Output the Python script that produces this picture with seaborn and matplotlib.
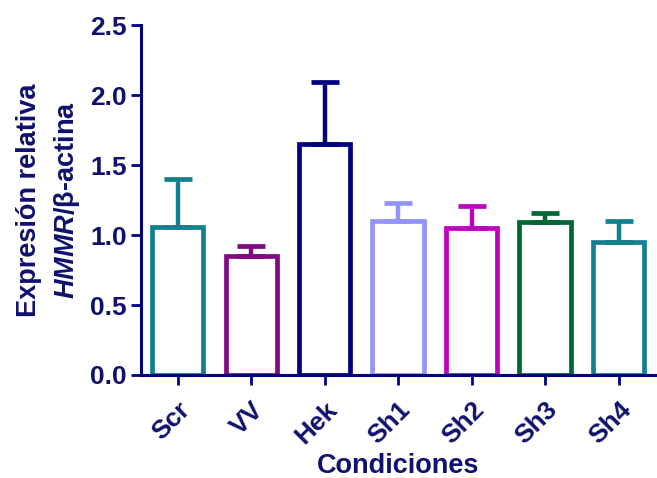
import seaborn as sns
import pandas as pd
import matplotlib.pyplot as plt

condiciones = ["Scr", "VV", "Hek", "Sh1", "Sh2", "Sh3", "Sh4"]
medias = [1.06, 0.85, 1.65, 1.10, 1.05, 1.09, 0.95]
errores = [0.34, 0.07, 0.44, 0.13, 0.16, 0.07, 0.15]
colores = ["#12808F", "#800A80", "#000080", "#9494FF", "#C000C0", "#006633", "#12808F"]

navy = "#000080"
txt = "#10106E"

sns.set_style("ticks")
plt.rcParams['font.family'] = ['Liberation Sans', 'DejaVu Sans']
plt.rcParams['mathtext.fontset'] = 'custom'
plt.rcParams['mathtext.it'] = 'Liberation Sans:italic:bold'
plt.rcParams['mathtext.rm'] = 'Liberation Sans:bold'

df = pd.DataFrame({"cond": condiciones, "val": medias})

fig = plt.figure(figsize=(6.57, 4.78), dpi=100)
ax = fig.add_axes([0.2146, 0.2155, 0.783, 0.732])

sns.barplot(data=df, x="cond", y="val", hue="cond", palette=colores, order=condiciones,
            fill=False, linewidth=3.4, width=0.7, errorbar=None, legend=False, ax=ax)

for i, (m, e, c) in enumerate(zip(medias, errores, colores)):
    ax.errorbar(i, m, yerr=[[0], [e]], color=c, elinewidth=3.2, capsize=10, capthick=3.4,
                fmt='none', zorder=3)

ax.set_ylim(0, 2.5)
ax.set_xlim(-0.5, 6.5)
ax.set_yticks([0.0, 0.5, 1.0, 1.5, 2.0, 2.5])
ax.set_yticklabels(["0.0", "0.5", "1.0", "1.5", "2.0", "2.5"])

for s in ["top", "right"]:
    ax.spines[s].set_visible(False)
for s in ["left", "bottom"]:
    ax.spines[s].set_color(navy)
    ax.spines[s].set_linewidth(2.2)
ax.tick_params(axis='both', colors=navy, width=2, length=7, labelcolor=txt, labelsize=19)
ax.tick_params(axis='y', pad=3)
ax.tick_params(axis='x', pad=9)
for lab in ax.get_yticklabels():
    lab.set_fontweight('bold')
for lab in ax.get_xticklabels():
    lab.set_fontweight('bold')
    lab.set_rotation(45)
    lab.set_ha('right')
    lab.set_rotation_mode('anchor')

ax.set_xlabel("Condiciones", fontsize=19.5, fontweight='bold', color=txt, labelpad=3.5)
ax.set_ylabel("Expresión relativa\n$\\mathit{HMMR}$/β-actina", fontsize=19.5, fontweight='bold',
              color=txt, linespacing=1.45, labelpad=6)

fig.savefig("out.png", dpi=100)
